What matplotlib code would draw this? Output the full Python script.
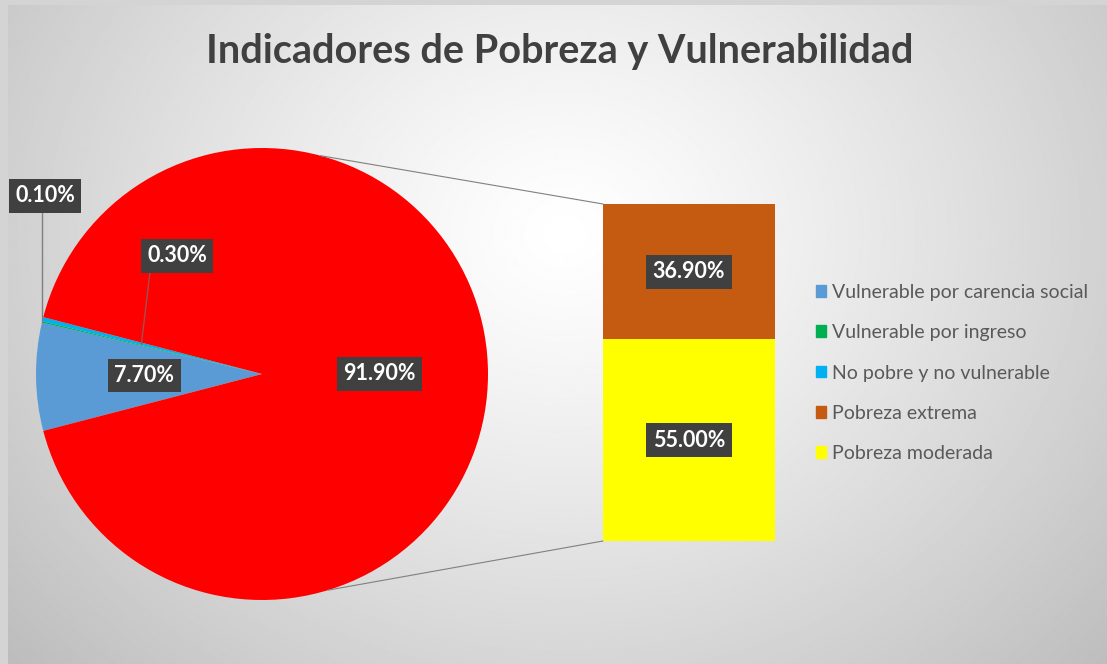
import numpy as np
import matplotlib
matplotlib.use("Agg")
import matplotlib.pyplot as plt
from matplotlib.patches import Patch, ConnectionPatch

# data
pie_labels = ["Vulnerable por carencia social", "Vulnerable por ingreso", "No pobre y no vulnerable"]
pie_values = [7.7, 0.1, 0.3]
bar_labels = ["Pobreza extrema", "Pobreza moderada"]
bar_values = [36.9, 55.0]
title = "Indicadores de Pobreza y Vulnerabilidad"

pie_colors = ["#5B9BD5", "#00B050", "#00B0F0"]
other_color = "#FF0000"
bar_colors = ["#C55A11", "#FFFF00"]

W, H = 1107, 664
plt.rcParams["font.family"] = ["Lato", "DejaVu Sans"]


def Y(y):
    # pixel row -> data y (y up)
    return H - y


fig = plt.figure(figsize=(W / 100, H / 100), dpi=100)
fig.patch.set_facecolor("#d4d4d4")
ax = fig.add_axes([0, 0, 1, 1])

# radial grey background
yy, xx = np.mgrid[0:H, 0:W]
d = np.sqrt(((xx - 560) / 700.0) ** 2 + ((yy - 230) / 600.0) ** 2)
bg = 1 - 0.24 * d ** 1.2
ax.imshow(bg, cmap="gray", vmin=0, vmax=1, extent=(8, W, 0, H - 5),
          origin="upper", zorder=0, interpolation="bilinear")

# pie: small slices + combined "other" slice on the right
other = sum(bar_values)
values = pie_values + [other]
colors = pie_colors + [other_color]
pcx, pcy, pr = 262, Y(374), 226
start = 180 + 3.6 * sum(pie_values) / 2
wedges, _ = ax.pie(values, colors=colors, startangle=start, counterclock=False,
                   center=(pcx, pcy), radius=pr, wedgeprops=dict(linewidth=0))
for w in wedges:
    w.set_zorder(2)

box = dict(boxstyle="square,pad=0.3", fc="#404040", ec="none")
lab_kw = dict(color="white", fontsize=15.5, fontweight="bold", ha="center", va="center", bbox=box, zorder=5)


def mid_point(w, frac):
    a = np.deg2rad((w.theta1 + w.theta2) / 2)
    return pcx + frac * pr * np.cos(a), pcy + frac * pr * np.sin(a)


# big slices: labels inside
for w, v in [(wedges[0], pie_values[0]), (wedges[3], other)]:
    x, y = mid_point(w, 0.52)
    ax.text(x, y, f"{v:.2f}%", **lab_kw)

# tiny slices: labels dragged out with leader lines
x, y = mid_point(wedges[1], 1.0)
ax.plot([x, x], [Y(212), y], color="#7f7f7f", lw=1, zorder=4)
ax.text(45, Y(196), f"{pie_values[1]:.2f}%", **lab_kw)
x, y = mid_point(wedges[2], 0.55)
ax.plot([150, x], [Y(272), y], color="#a05050", lw=1, zorder=4)
ax.text(177, Y(256), f"{pie_values[2]:.2f}%", **lab_kw)

ax.set_xlim(0, W)
ax.set_ylim(0, H)
ax.axis("off")

# stacked bar of the "other" slice
bax = fig.add_axes([603 / W, 123 / H, 172 / W, 337 / H])
bax.bar(0, bar_values[1], width=1, color=bar_colors[1], linewidth=0)
bax.bar(0, bar_values[0], bottom=bar_values[1], width=1, color=bar_colors[0], linewidth=0)
bax.set_xlim(-0.5, 0.5)
bax.set_ylim(0, other)
bax.axis("off")
bax.text(0, bar_values[1] + bar_values[0] / 2, f"{bar_values[0]:.2f}%", **lab_kw)
bax.text(0, bar_values[1] / 2, f"{bar_values[1]:.2f}%", **lab_kw)

# connector lines pie -> bar
for ang, yb in [(75, other), (-73, 0)]:
    a = np.deg2rad(ang)
    con = ConnectionPatch(xyA=(-0.5, yb), coordsA=bax.transData,
                          xyB=(pcx + pr * np.cos(a), pcy + pr * np.sin(a)), coordsB=ax.transData,
                          color="#808080", lw=0.8, zorder=1)
    fig.add_artist(con)

# title
fig.text(560 / W, 1 - 52 / H, title, fontsize=28.5, fontweight="bold", color="#404040",
         ha="center", va="center")

# legend
handles = [Patch(color=c) for c in pie_colors + bar_colors]
fig.legend(handles, pie_labels + bar_labels, loc="center left",
           bbox_to_anchor=(806 / W, 1 - 373 / H), frameon=False, fontsize=14,
           labelcolor="#595959", handlelength=0.55, handleheight=0.55,
           handletextpad=0.3, labelspacing=1.2, borderpad=0)

fig.savefig("out.png", dpi=100)
